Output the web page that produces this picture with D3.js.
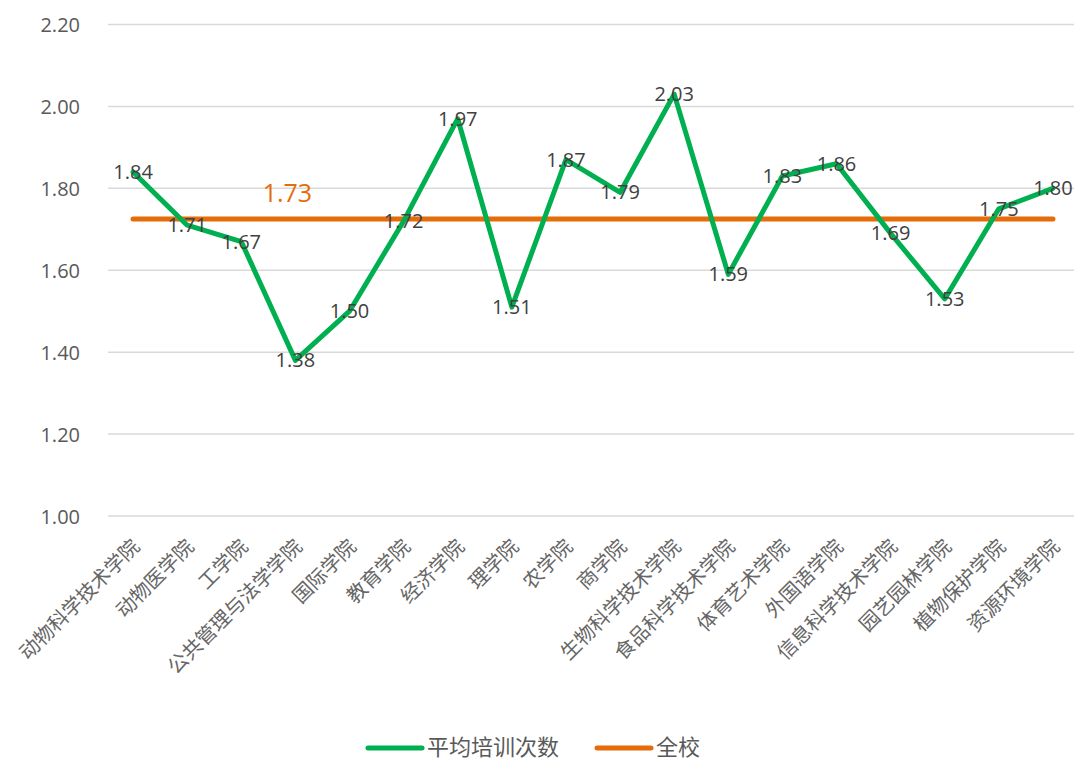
<!DOCTYPE html>
<html lang="zh">
<head>
<meta charset="utf-8">
<title>平均培训次数</title>
<script src="https://cdn.jsdelivr.net/npm/d3@7"></script>
<style>
  body { margin: 0; background: #fff; }
  svg text { font-family: "Open Sans", "Liberation Sans", sans-serif; }
  .grid line { stroke: #d9d9d9; stroke-width: 1.5; }
  .cat text { font-family: "Noto Sans CJK SC", sans-serif; fill: #666; }
</style>
</head>
<body>
<script>
// data
var colleges = ["动物科学技术学院", "动物医学院", "工学院", "公共管理与法学学院", "国际学院",
  "教育学院", "经济学院", "理学院", "农学院", "商学院", "生物科学技术学院", "食品科学技术学院",
  "体育艺术学院", "外国语学院", "信息科学技术学院", "园艺园林学院", "植物保护学院", "资源环境学院"];
var avgTimes = [1.84, 1.71, 1.67, 1.38, 1.50, 1.72, 1.97, 1.51, 1.87, 1.79, 2.03, 1.59,
  1.83, 1.86, 1.69, 1.53, 1.75, 1.80];
var schoolAvg = 1.725;
var schoolLabel = "1.73";
var yTicks = [1.00, 1.20, 1.40, 1.60, 1.80, 2.00, 2.20];
var seriesNames = ["平均培训次数", "全校"];

var w = 1074, h = 761;
var green = "#00b050", orange = "#e46c0a";

var svg = d3.select("body").append("svg")
  .attr("width", w)
  .attr("height", h);

var x = d3.scaleBand()
  .domain(colleges)
  .range([106, 1080]);
var cx = function(c) { return x(c) + x.bandwidth() / 2; };

var y = d3.scaleLinear()
  .domain([1.0, 2.2])
  .range([516, 24.5]);

// gridlines
svg.append("g").attr("class", "grid")
  .selectAll("line")
  .data(yTicks)
  .enter().append("line")
  .attr("x1", 108).attr("x2", w)
  .attr("y1", function(d) { return y(d); })
  .attr("y2", function(d) { return y(d); });

// y axis labels
var yAxis = d3.axisLeft(y).tickValues(yTicks).tickFormat(d3.format(".2f")).tickSize(0).tickPadding(0);
var ya = svg.append("g").attr("transform", "translate(80,0)").call(yAxis);
ya.select(".domain").remove();
ya.selectAll("text")
  .attr("font-size", "20px")
  .attr("fill", "#595959")
  .style("font-family", "'Open Sans', sans-serif")
  .attr("dy", "0.35em");

// category labels
var xAxis = d3.axisBottom(x).tickSize(0).tickPadding(0);
var xa = svg.append("g").attr("class", "cat").attr("transform", "translate(0,530)").call(xAxis);
xa.select(".domain").remove();
xa.selectAll("text")
  .attr("font-size", "20px")
  .attr("text-anchor", "end")
  .attr("y", 0).attr("dy", "0.35em")
  .attr("transform", "translate(3,13) rotate(-45)");

// school average line
svg.append("line")
  .attr("x1", cx(colleges[0]))
  .attr("x2", cx(colleges[colleges.length - 1]))
  .attr("y1", y(schoolAvg)).attr("y2", y(schoolAvg))
  .attr("stroke", orange)
  .attr("stroke-width", 5)
  .attr("stroke-linecap", "round");

svg.append("text")
  .attr("x", cx(colleges[3]) - 8)
  .attr("y", y(schoolAvg) - 17)
  .attr("text-anchor", "middle")
  .attr("font-size", "25px")
  .attr("fill", orange)
  .text(schoolLabel);

// college series
var line = d3.line()
  .x(function(d, i) { return cx(colleges[i]); })
  .y(function(d) { return y(d); });

svg.append("path")
  .datum(avgTimes)
  .attr("d", line)
  .attr("fill", "none")
  .attr("stroke", green)
  .attr("stroke-width", 5)
  .attr("stroke-linejoin", "round")
  .attr("stroke-linecap", "round");

svg.selectAll(".lbl")
  .data(avgTimes)
  .enter().append("text")
  .attr("class", "lbl")
  .attr("x", function(d, i) { return cx(colleges[i]); })
  .attr("y", function(d) { return y(d); })
  .attr("dy", "0.35em")
  .attr("text-anchor", "middle")
  .attr("font-size", "20px")
  .attr("fill", "#404040")
  .text(function(d) { return d.toFixed(2); });

// legend
var legend = svg.append("g").attr("transform", "translate(0,748)");
var legX = [368, 597];
var legColors = [green, orange];
seriesNames.forEach(function(n, i) {
  legend.append("line")
    .attr("x1", legX[i]).attr("x2", legX[i] + 54)
    .attr("y1", 0).attr("y2", 0)
    .attr("stroke", legColors[i])
    .attr("stroke-width", 5)
    .attr("stroke-linecap", "round");
  legend.append("text")
    .attr("x", legX[i] + 59)
    .attr("y", 0).attr("dy", "0.33em")
    .attr("font-size", "22px")
    .attr("fill", "#595959")
    .style("font-family", "'Noto Sans CJK SC', sans-serif")
    .text(n);
});
</script>
</body>
</html>
